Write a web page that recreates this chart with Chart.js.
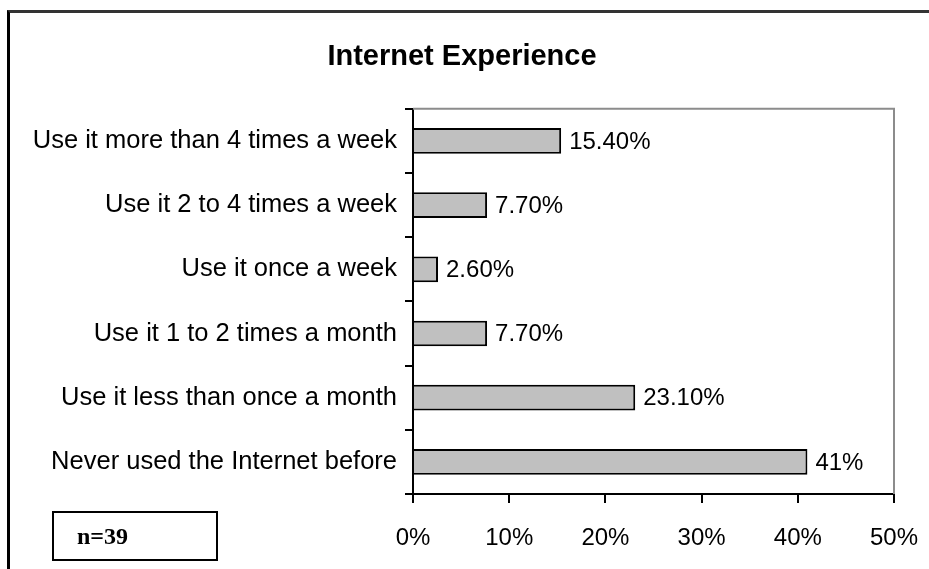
<!DOCTYPE html>
<html>
<head>
<meta charset="utf-8">
<script src="https://cdn.jsdelivr.net/npm/chart.js@4/dist/chart.umd.min.js"></script>
<style>
  body { margin: 0; background: #fff; }
  #wrap { position: relative; width: 929px; height: 569px; overflow: hidden; }
  #frame { position: absolute; left: 7px; top: 10px; width: 1000px; height: 1000px;
           border: 3px solid #000; box-sizing: border-box; border-top-color: #333; }
  #nbox { position: absolute; left: 52px; top: 511px; width: 166px; height: 50px;
          border: 2px solid #000; box-sizing: border-box;
          font: bold 24px "Liberation Serif", "Times New Roman", serif;
          line-height: 46px; padding-left: 23px; }
  canvas { position: absolute; left: 0; top: 0; }
</style>
</head>
<body>
<div id="wrap">
  <div id="frame"></div>
  <canvas id="grafico" width="929" height="569"></canvas>
  <div id="nbox">n=39</div>
</div>
<script>
// Datos del grafico
const categorias = [
  'Use it more than 4 times a week',
  'Use it 2 to 4 times a week',
  'Use it once a week',
  'Use it 1 to 2 times a month',
  'Use it less than once a month',
  'Never used the Internet before'
];
const valores = [15.4, 7.7, 2.6, 7.7, 23.1, 41];
const etiquetas = ['15.40%', '7.70%', '2.60%', '7.70%', '23.10%', '41%'];
const ticksX = [0, 10, 20, 30, 40, 50];

const fuente = '"Liberation Sans", Arial, sans-serif';

// Etiquetas de valor al final de cada barra
const pluginEtiquetas = {
  id: 'etiquetas',
  afterDatasetsDraw(chart) {
    const ctx = chart.ctx;
    const meta = chart.getDatasetMeta(0);
    ctx.save();
    ctx.font = '24px ' + fuente;
    ctx.fillStyle = '#000';
    ctx.textAlign = 'left';
    ctx.textBaseline = 'middle';
    meta.data.forEach((bar, i) => {
      ctx.fillText(etiquetas[i], bar.x + 8, bar.y + 1);
    });
    ctx.restore();
  }
};

// Borde gris arriba y a la derecha del area del grafico
const pluginBorde = {
  id: 'borde',
  beforeDatasetsDraw(chart) {
    const { ctx, chartArea: a } = chart;
    ctx.save();
    ctx.strokeStyle = '#8c8c8c';
    ctx.lineWidth = 2;
    ctx.beginPath();
    ctx.moveTo(a.left, a.top);
    ctx.lineTo(a.right, a.top);
    ctx.lineTo(a.right, a.bottom);
    ctx.stroke();
    ctx.restore();
  }
};

new Chart(document.getElementById('grafico').getContext('2d'), {
  type: 'bar',
  data: {
    labels: categorias,
    datasets: [{
      data: valores,
      backgroundColor: '#c0c0c0',
      borderColor: '#000',
      borderWidth: 2,
      borderSkipped: 'start',
      barPercentage: 0.4,
      categoryPercentage: 1
    }]
  },
  options: {
    indexAxis: 'y',
    responsive: false,
    animation: false,
    layout: { padding: { left: 30, right: 35, top: 0, bottom: 0 } },
    scales: {
      x: {
        min: 0,
        max: 50,
        afterBuildTicks(scale) {
          scale.ticks = ticksX.map(v => ({ value: v }));
        },
        afterFit(scale) {
          scale.height = 75;
          scale.paddingLeft = 0;
          scale.paddingRight = 0;
        },
        grid: { drawOnChartArea: false, drawTicks: true, tickLength: 9, color: '#000', lineWidth: 2 },
        border: { color: '#000', width: 2 },
        ticks: {
          color: '#000',
          padding: 21,
          font: { family: fuente, size: 24 },
          callback: v => v + '%'
        }
      },
      y: {
        afterFit(scale) { scale.width = 383; },
        grid: { drawOnChartArea: false, drawTicks: true, tickLength: 8, color: '#000', lineWidth: 2, offset: true },
        border: { color: '#000', width: 2 },
        ticks: {
          color: '#000',
          padding: 8,
          font: { family: fuente, size: 25.5 }
        }
      }
    },
    plugins: {
      legend: { display: false },
      tooltip: { enabled: false },
      title: {
        display: true,
        text: 'Internet Experience',
        color: '#000',
        font: { family: fuente, size: 29, weight: 'bold', lineHeight: 1.2 },
        padding: { top: 40, bottom: 34 }
      }
    }
  },
  plugins: [pluginEtiquetas, pluginBorde]
});
</script>
</body>
</html>
